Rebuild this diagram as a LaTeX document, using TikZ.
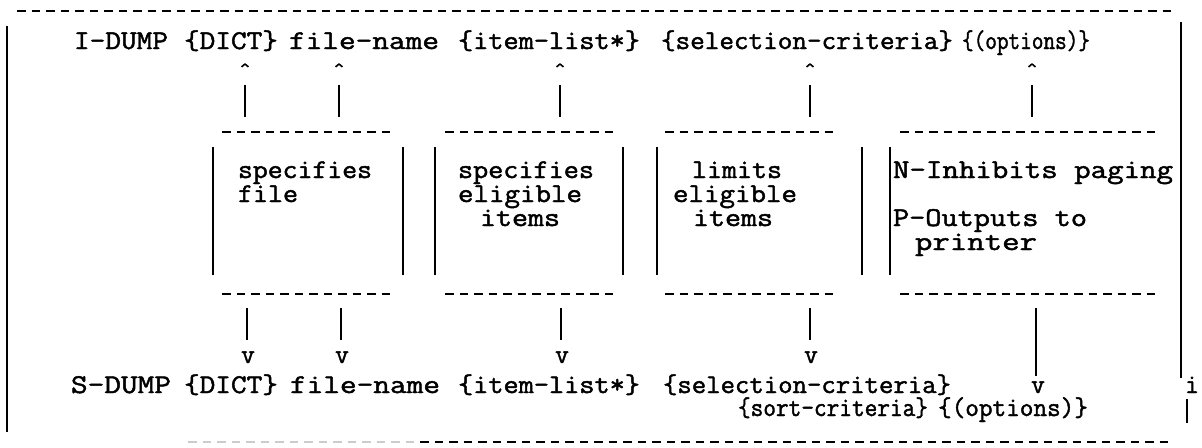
\documentclass[tikz,border=0pt]{standalone}
\usepackage{graphicx}
\usepackage{fontspec}
\newfontfamily\typew{Latin Modern Mono}[FakeBold=1.6]
\newdimen\pxu \pxu=0.75pt
% set a token at a given width (in px units), keeping its natural height
\newcommand\fitw[2]{\resizebox{#1\pxu}{\height}{#2}}
\begin{document}
\begin{tikzpicture}[x=0.75pt,y=-0.75pt,
  txt/.style={inner sep=0pt,outer sep=0pt,anchor=base west,
    font=\typew\fontsize{20.3pt}{24pt}\selectfont},
  ctxt/.style={txt,anchor=base},
  dashrule/.style={line width=1.7pt,dash pattern=on 6.375pt off 4.5pt},
  bar/.style={line width=1pt},
  caret/.style={line width=1.2pt,line join=round}]
\useasboundingbox (0,0) rectangle (1202,447);

% ---- outer frame ----
\coordinate (topL) at (17,11);   \coordinate (topR) at (1171,11);
\coordinate (lbT) at (7,26);     \coordinate (lbB) at (7,432);
\coordinate (rbT) at (1181,22);  \coordinate (rbB) at (1181,378);
\coordinate (rb2T) at (1187,399); \coordinate (rb2B) at (1187,423);
\coordinate (botL) at (420,442); \coordinate (botR) at (1168,442);
\coordinate (botF) at (188,442);
\draw[dashrule] (topL) -- (topR);
\draw[bar] (lbT) -- (lbB);
\draw[bar] (rbT) -- (rbB);
\draw[bar] (rb2T) -- (rb2B);
\draw[dashrule] (botL) -- (botR);
\draw[dashrule,black!20] (botF) -- ([xshift=-4.5pt]botL);

% ---- I-DUMP line ----
\node[txt] (iDump) at (74,49)  {\fitw{94}{I-DUMP}};
\node[txt] (iDict) at (184,49) {\fitw{94}{\{DICT\}}};
\node[txt] (iFile) at (289,49) {\fitw{150}{file-name}};
\node[txt] (iItem) at (458,49) {\fitw{182}{\{item-list*\}}};
\node[txt] (iSel)  at (661,49) {\fitw{292}{\{selection-criteria\}}};
\node[txt] (iOpt)  at (962,49) {\fitw{128}{\{(options)\}}};

% ---- carets and upward pipes ----
\foreach \n/\x in {1/245,2/339,3/560,4/810,5/1032}{
  \coordinate (up\n) at (\x,64);
  \coordinate (pt\n) at (\x,85);
  \coordinate (pb\n) at (\x,117);
  \draw[caret] ([xshift=-2.6pt,yshift=-2.2pt]up\n) -- (up\n) -- ([xshift=2.6pt,yshift=-2.2pt]up\n);
  \draw[bar] (pb\n) -- (pt\n);
}

% ---- boxes: dashed top and bottom, solid sides ----
\foreach \b/\l/\r in {1/222/390,2/445/613,3/665/833,4/900/1155}{
  \coordinate (bt\b l) at (\l,132); \coordinate (bt\b r) at (\r,132);
  \coordinate (bb\b l) at (\l,294); \coordinate (bb\b r) at (\r,294);
  \draw[dashrule] (bt\b l) -- (bt\b r);
  \draw[dashrule] (bb\b l) -- (bb\b r);
}
\foreach \x in {213,403,435,623,657,862,890}{
  \draw[bar] (\x,147) -- (\x,275);
}

% ---- box texts ----
\node[txt] (b1a) at (238,178) {\fitw{134}{specifies}};
\node[txt] (b1b) at (238,202) {\fitw{60}{file}};
\node[txt] (b2a) at (458,178) {\fitw{136}{specifies}};
\node[txt] (b2b) at (458,202) {\fitw{124}{eligible}};
\node[txt] (b2c) at (480,226) {\fitw{80}{items}};
\node[txt] (b3a) at (692,178) {\fitw{90}{limits}};
\node[txt] (b3b) at (673,202) {\fitw{124}{eligible}};
\node[txt] (b3c) at (693,226) {\fitw{80}{items}};
\node[txt] (b4a) at (893,178) {\fitw{280}{N-Inhibits paging}};
\node[txt] (b4b) at (893,226) {\fitw{194}{P-Outputs to}};
\node[txt] (b4c) at (915,250) {\fitw{122}{printer}};

% ---- downward pipes and arrow heads ----
\foreach \n/\x in {1/247,2/341,3/561,4/810}{
  \coordinate (dt\n) at (\x,308);
  \coordinate (db\n) at (\x,340);
  \draw[bar] (dt\n) -- (db\n);
  \node[ctxt] (v\n) at (\x+1,363) {v};
}
\coordinate (dt5) at (1036,308);
\coordinate (db5) at (1036,376);
\draw[bar] (dt5) -- (db5);
\node[ctxt] (v5) at (1038,393) {v};

% ---- S-DUMP line ----
\node[txt] (sDump) at (71,393)  {\fitw{100}{S-DUMP}};
\node[txt] (sDict) at (184,393) {\fitw{94}{\{DICT\}}};
\node[txt] (sFile) at (290,393) {\fitw{150}{file-name}};
\node[txt] (sItem) at (458,393) {\fitw{182}{\{item-list*\}}};
\node[txt] (sSel)  at (663,393) {\fitw{288}{\{selection-criteria\}}};
\node[ctxt] (sI)   at (1192,393) {i};
\node[txt] (sSort) at (738,416) {\fitw{190}{\{sort-criteria\}}};
\node[txt] (sOpt)  at (938,416) {\fitw{150}{\{(options)\}}};
\end{tikzpicture}
\end{document}
